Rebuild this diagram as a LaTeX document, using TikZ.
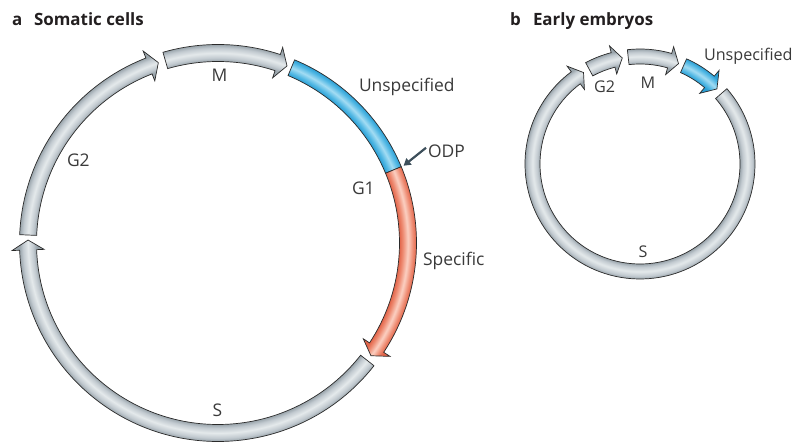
\documentclass[tikz,border=0pt]{standalone}
\usepackage{fontspec}
\setmainfont{Open Sans}
\usetikzlibrary{arrows.meta,calc}
\definecolor{gE}{HTML}{9AA5AC}
\definecolor{gM}{HTML}{C2CAD0}
\definecolor{gC}{HTML}{E4E9EB}
\definecolor{bE}{HTML}{2A9ED4}
\definecolor{bM}{HTML}{52B8E4}
\definecolor{bC}{HTML}{A3DCF3}
\definecolor{rE}{HTML}{E2654A}
\definecolor{rM}{HTML}{EE8C73}
\definecolor{rC}{HTML}{FBD0C2}
\definecolor{lineC}{HTML}{2A2A2A}
\definecolor{txtC}{HTML}{3A3A3A}
\definecolor{headC}{HTML}{231F20}
\definecolor{odpC}{HTML}{3D4F5B}
\pgfdeclareradialshading{grayA}{\pgfpoint{0bp}{0bp}}{color(0bp)=(gE); color(181.5bp)=(gE); color(185bp)=(gM); color(190bp)=(gC); color(195bp)=(gM); color(198.5bp)=(gE); color(215bp)=(gE)}
\pgfdeclareradialshading{blueA}{\pgfpoint{0bp}{0bp}}{color(0bp)=(bE); color(181.5bp)=(bE); color(185bp)=(bM); color(190bp)=(bC); color(195bp)=(bM); color(198.5bp)=(bE); color(215bp)=(bE)}
\pgfdeclareradialshading{redA}{\pgfpoint{0bp}{0bp}}{color(0bp)=(rE); color(181.5bp)=(rE); color(185bp)=(rM); color(190bp)=(rC); color(195bp)=(rM); color(198.5bp)=(rE); color(215bp)=(rE)}
\pgfdeclareradialshading{grayB}{\pgfpoint{0bp}{0bp}}{color(0bp)=(gE); color(100bp)=(gE); color(103bp)=(gM); color(107.5bp)=(gC); color(112bp)=(gM); color(115bp)=(gE); color(125bp)=(gE)}
\pgfdeclareradialshading{blueB}{\pgfpoint{0bp}{0bp}}{color(0bp)=(bE); color(100bp)=(bE); color(103bp)=(bM); color(107.5bp)=(bC); color(112bp)=(bM); color(115bp)=(bE); color(125bp)=(bE)}
% #1 centre, #2 mid radius, #3 half width, #4 tail angle, #5 tip angle, #6 head angle, #7 wing extension, #8 shading
\newcommand{\bandarrow}[8]{%
  \pgfmathsetmacro\bRo{#2+#3}%
  \pgfmathsetmacro\bRi{#2-#3}%
  \pgfmathsetmacro\bHb{#5+#6}%
  \pgfmathsetmacro\bWo{#2+#3+#7}%
  \pgfmathsetmacro\bWi{#2-#3-#7}%
  \begin{scope}[shift={#1}]
    \begin{scope}
      \clip (#4:\bRo bp) arc[start angle=#4, end angle=\bHb, radius=\bRo bp] -- (\bHb:\bWo bp) -- (#5:#2bp) -- (\bHb:\bWi bp) -- (\bHb:\bRi bp) arc[start angle=\bHb, end angle=#4, radius=\bRi bp] -- cycle;
      \node[inner sep=0pt, outer sep=0pt, overlay] at (0,0) {\pgfuseshading{#8}};
    \end{scope}
    \draw[bandline] (#4:\bRo bp) arc[start angle=#4, end angle=\bHb, radius=\bRo bp] -- (\bHb:\bWo bp) -- (#5:#2bp) -- (\bHb:\bWi bp) -- (\bHb:\bRi bp) arc[start angle=\bHb, end angle=#4, radius=\bRi bp] -- cycle;
  \end{scope}}
\begin{document}
\begin{tikzpicture}[x=1bp, y=1bp,
  bandline/.style={draw=lineC, line width=0.7bp, line join=miter},
  lab/.style={inner sep=0pt, outer sep=0pt, text=txtC, font=\fontsize{17.5}{20}\selectfont},
  labb/.style={lab, font=\fontsize{16.2}{19}\selectfont},
  head/.style={inner sep=0pt, outer sep=0pt, text=headC, font=\fontsize{17}{20}\selectfont\bfseries, anchor=base west}]
\fill[white] (0,0) rectangle (803,443);
\useasboundingbox (0,0) rectangle (803,443);
% panel a
\bandarrow{(218,200)}{190}{8.5}{-38.2}{-180.9}{3}{7.5}{grayA}
\bandarrow{(218,200)}{190}{8.5}{177.6}{108.3}{3}{7.5}{grayA}
\bandarrow{(218,200)}{190}{8.5}{106.1}{68.7}{3}{7.5}{grayA}
\bandarrow{(218,200)}{190}{8.5}{67.3}{22.6}{0}{0}{blueA}
\bandarrow{(218,200)}{190}{8.5}{22.6}{-36.4}{3}{7.5}{redA}
% panel b
\bandarrow{(640,279)}{107.5}{7.5}{40.9}{-238.3}{5}{7}{grayB}
\bandarrow{(640,279)}{107.5}{7.5}{118.2}{99.5}{5}{7}{grayB}
\bandarrow{(640,279)}{107.5}{7.5}{96.3}{69}{5}{7}{grayB}
\bandarrow{(640,279)}{107.5}{7.5}{66.1}{44.3}{5.5}{7.5}{blueB}
% headings
\node[head] (ha) at (12,417) {a};
\node[head] (hat) at (34,417) {Somatic cells};
\node[head] (hb) at (510,417) {b};
\node[head] (hbt) at (533,417) {Early embryos};
% labels a
\node[lab, anchor=base] (mA) at (219.5,361) {M};
\node[lab, anchor=base west] (unA) at (359,351) {Unspecified};
\node[lab, anchor=base west] (odp) at (428,285) {ODP};
\node[lab, anchor=base west] (g1A) at (352,248) {G1};
\node[lab, anchor=base west] (spA) at (423,177) {Specific};
\node[lab, anchor=base west] (g2A) at (67,276) {G2};
\node[lab, anchor=base] (sA) at (217.5,26) {S};
\coordinate (odpT) at ($(218,200)+(22.6:201)$);
% labels b
\node[labb, anchor=base west] (unB) at (704,382) {Unspecified};
\node[labb, anchor=base west] (g2B) at (594,350) {G2};
\node[labb, anchor=base] (mB) at (648,354) {M};
\node[labb, anchor=base] (sB) at (643,185) {S};
\draw[odpC, line width=2.2bp, -{Triangle[length=7bp,width=8bp]}] ([xshift=-2bp,yshift=4bp]odp.west) -- (odpT);
\end{tikzpicture}
\end{document}
